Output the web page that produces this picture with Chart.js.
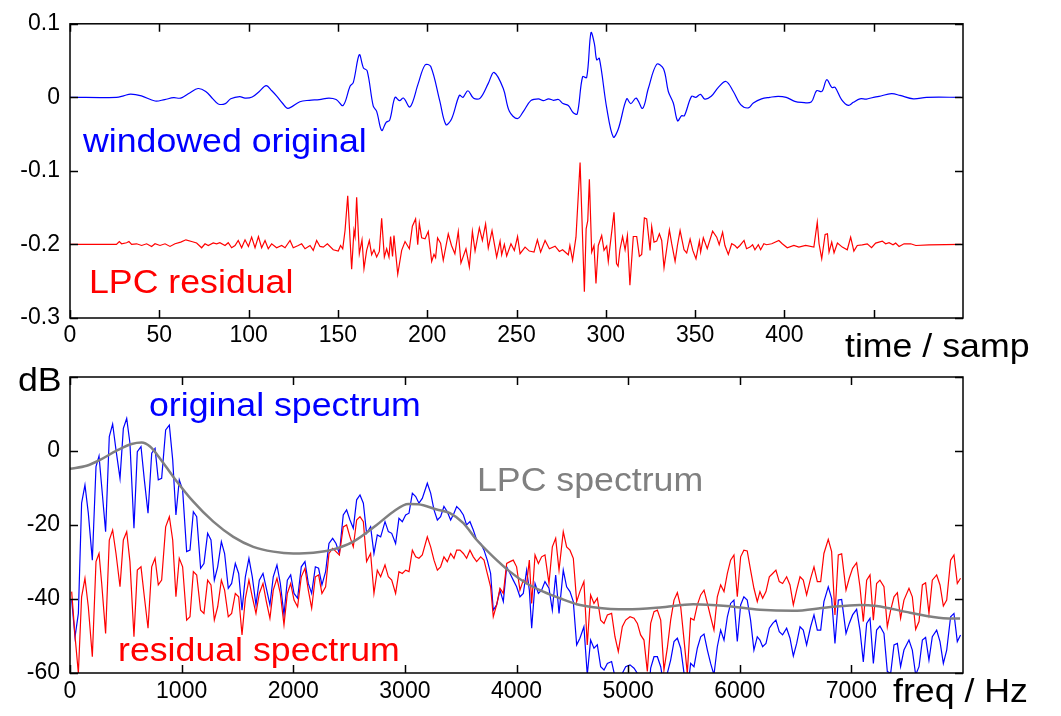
<!DOCTYPE html>
<html>
<head>
<meta charset="utf-8">
<script src="https://cdn.jsdelivr.net/npm/chart.js@4.4.0/dist/chart.umd.min.js"></script>
<style>
  body { margin: 0; background: #fff; }
  #wrap { position: relative; width: 1061px; height: 716px; overflow: hidden; font-family: "Liberation Sans", Arial, sans-serif; }
  canvas { position: absolute; left: 0; top: 0; }
  .lbl { position: absolute; font-size: 34px; line-height: 1; white-space: nowrap; transform-origin: 0 0; transform: scaleX(1.05); }
</style>
</head>
<body>
<div id="wrap">
  <canvas id="timeChart" width="1061" height="716"></canvas>
  <canvas id="specChart" width="1061" height="716"></canvas>
  <div class="lbl" style="left:83px;top:123px;color:#0000ff">windowed original</div>
  <div class="lbl" style="left:89px;top:264px;color:#ff0000">LPC residual</div>
  <div class="lbl" style="left:845px;top:328px;color:#000">time / samp</div>
  <div class="lbl" style="left:18px;top:362px;color:#000">dB</div>
  <div class="lbl" style="left:149px;top:387px;color:#0000ff">original spectrum</div>
  <div class="lbl" style="left:477px;top:462px;color:#808080">LPC spectrum</div>
  <div class="lbl" style="left:118px;top:632px;color:#ff0000">residual spectrum</div>
  <div class="lbl" style="left:893px;top:673px;color:#000">freq / Hz</div>
</div>
<script>
// ---- top panel: time waveform (sample index, amplitude) ----
const origT = [0,26,30,34,40,47.6,53,58,62,67,71.7,76,80,83,87,90,95,98,102,106,
  109.8,113,116,119,122,128.7,134,139.6,145,149,152.9,156.8,158.6,162,164.3,166.4,169.8,171.7,174.5,177,
  179,182,184.5,186.7,190.4,195,198.8,202,207,210.5,213.7,218,220,222.8,226,229.7,234.2,237.4,242.6,246,
  250.5,253.9,258,262.3,265,268,270.7,273.5,276,279,281.8,284,287,289.3,291.7,293.6,294.9,296.4,300.5,304.2,
  307,311.7,314,317,320.6,323.8,328.5,332.3,335,337.8,340.2,342.4,344,348,350.4,353,355.4,359,363,367.3,
  371.4,375.5,379.8,382.6,387.2,391.8,396.5,401,405.8,409.5,415,418,421,423.7,426.5,428.4,432,435.8,438.6,442.3,
  446,449,453,460,464.7,472.2,479.6,499];
const origV = [0,0,0.002,0.0045,0.002,-0.005,-0.003,-0.0005,-0.001,0.006,0.012,0.008,-0.002,-0.009,-0.0085,-0.002,0.001,-0.001,0.0005,0.008,
  0.016,0.009,0.001,-0.008,-0.015,-0.006,-0.004,-0.003,-0.001,-0.003,-0.011,0.015,0.02,0.058,0.04,0.036,-0.012,-0.019,-0.045,-0.034,
  -0.031,0,-0.0045,-0.001,-0.013,0.019,0.044,0.042,-0.0045,-0.037,-0.029,0.0027,0,0.009,-0.0013,-0.001,0.019,0.034,0.012,-0.019,
  -0.029,-0.019,-0.0045,-0.002,-0.0045,-0.002,-0.004,-0.003,-0.0085,-0.011,-0.021,-0.0225,0.028,0.027,0.088,0.073,0.051,0.053,-0.0144,-0.054,
  -0.043,-0.002,-0.0085,-0.001,-0.015,0.012,0.045,0.039,0.008,-0.0077,-0.032,-0.025,-0.025,0.0014,0,0.004,-0.0023,0.0014,0.0135,0.0216,
  0.008,-0.01,-0.0144,-0.0077,-0.002,0,0.0014,0,-0.0054,-0.0068,-0.0063,0.009,0.008,0.024,0.0135,0.0135,-0.003,-0.011,-0.0068,-0.002,
  -0.0023,-0.0005,0.0014,0.005,0.0027,-0.002,0,0];

const resT = [0,26,27.6,28.9,31.7,33,34.5,37.3,40.1,42.9,
  45.7,47.6,50.4,53.2,56,58.8,62,64.9,68.1,70.9,
  73.7,75.6,77.4,80.2,82.1,83.9,86.8,88.6,90.5,92.4,
  94.2,96.1,98,99.9,101.7,103.6,105.5,107.3,109.2,111,
  112.9,115.7,118.5,120.4,123.2,125,127.8,129.7,131.6,134.4,
  136.2,138.1,140,141.8,144.1,147.4,150.2,151.5,152.7,154,
  155.5,157.7,159,159.6,160.5,162,163.5,164.6,166.1,167.6,
  168.9,170.2,171.7,173.2,174.5,176,177.3,178.6,179.5,180.6,
  181.4,183.5,185.7,187.6,190,191.7,193.5,194.7,195.6,196.9,
  198.8,200.6,202.5,203.8,204.7,205.8,207.5,209,211.8,213.6,
  215.5,217.4,218.9,221.7,223.6,225.3,226.8,229.2,230.9,232.7,
  234.2,236.3,238.9,240.8,241.7,243.2,244.5,246.9,248.8,250.6,
  252,254.8,257.2,259.8,261.7,263.5,266,268.4,271.6,274,
  275.8,279,279.9,281.4,283.3,285.6,288,289,289.9,290.8,
  292.1,293.4,294.5,295.8,297.7,299,300.5,301.4,302.3,304.6,
  306,306.9,307.9,309.4,310.8,312.1,313.5,315.4,317.3,318.8,
  320.1,321.6,322.9,324.8,325.7,327,328.5,330,331.3,332.6,
  334.1,335.6,336.9,338.8,340.1,341.6,343.8,345.3,347.2,348.7,
  350.5,352.4,353.1,354.6,356.8,359.8,362.1,363.5,365.4,366.7,
  368.6,370.5,372.3,373.6,375.1,377.4,378.8,380.7,382.2,383.5,
  385.4,386.7,388.5,390,392.9,396.9,398.8,401.6,405.3,408.1,
  411.9,416.5,418.4,419.4,420.9,422.8,424.1,425,426.5,427.8,
  429.7,432.4,435.2,437.1,438.9,440.8,443.6,446.4,448.8,451.1,
  454.8,456.7,458.6,460.8,462.3,464.2,467,470.7,473.6,481,
  499];
const resV = [-0.2,-0.2,-0.196,-0.1991,-0.1977,-0.196,-0.2,-0.1991,-0.2014,-0.1991,
  -0.2027,-0.1991,-0.2014,-0.1991,-0.2027,-0.1991,-0.1968,-0.1937,-0.196,-0.198,
  -0.2045,-0.1991,-0.2014,-0.198,-0.1991,-0.1977,-0.2014,-0.1977,-0.2045,-0.2014,
  -0.1946,-0.2045,-0.1937,-0.2027,-0.19,-0.2045,-0.1892,-0.2045,-0.1946,-0.2058,
  -0.1991,-0.2045,-0.2014,-0.2045,-0.1946,-0.2045,-0.2014,-0.1991,-0.2058,-0.2014,
  -0.208,-0.1946,-0.2027,-0.2036,-0.199,-0.2072,-0.209,-0.2014,-0.2058,-0.1811,
  -0.1338,-0.2338,-0.1811,-0.1892,-0.136,-0.2126,-0.1937,-0.2329,-0.2081,-0.1946,
  -0.214,-0.2072,-0.2171,-0.2095,-0.1644,-0.2171,-0.2058,-0.2171,-0.1892,-0.2162,
  -0.1878,-0.2405,-0.2081,-0.196,-0.2058,-0.1752,-0.1653,-0.2004,-0.1712,-0.191,
  -0.1923,-0.1824,-0.223,-0.2135,-0.218,-0.191,-0.1982,-0.2216,-0.1856,-0.2014,
  -0.2126,-0.1824,-0.2252,-0.2058,-0.2306,-0.1824,-0.209,-0.1775,-0.1946,-0.1721,
  -0.2049,-0.1811,-0.2171,-0.1955,-0.214,-0.2,-0.2158,-0.199,-0.2081,-0.1892,
  -0.2126,-0.2036,-0.209,-0.2104,-0.1937,-0.2104,-0.1946,-0.2058,-0.2023,-0.2095,
  -0.2072,-0.214,-0.2014,-0.2216,-0.1901,-0.0887,-0.2644,-0.1788,-0.1676,-0.1113,
  -0.2104,-0.2014,-0.2532,-0.2014,-0.1878,-0.2081,-0.2023,-0.223,-0.2036,-0.1563,
  -0.2261,-0.2297,-0.2072,-0.1892,-0.2072,-0.1878,-0.2554,-0.1892,-0.1892,-0.2162,
  -0.2135,-0.164,-0.1653,-0.2081,-0.1757,-0.1969,-0.1955,-0.1856,-0.1946,-0.2315,
  -0.2058,-0.1802,-0.199,-0.223,-0.2014,-0.1811,-0.2072,-0.2117,-0.1928,-0.2081,
  -0.2194,-0.1955,-0.2104,-0.191,-0.2058,-0.182,-0.1901,-0.2004,-0.1833,-0.2014,
  -0.2135,-0.199,-0.2014,-0.2049,-0.2014,-0.1946,-0.2058,-0.2036,-0.2004,-0.2072,
  -0.2004,-0.2072,-0.199,-0.2004,-0.1991,-0.1946,-0.1991,-0.2045,-0.2014,-0.2036,
  -0.2014,-0.2036,-0.1698,-0.1991,-0.2194,-0.1865,-0.1856,-0.2104,-0.1968,-0.2113,
  -0.1982,-0.2036,-0.2072,-0.1901,-0.209,-0.2014,-0.2005,-0.1991,-0.2045,-0.1982,
  -0.1955,-0.1991,-0.1977,-0.2005,-0.1982,-0.2027,-0.1991,-0.1991,-0.2014,-0.2005,
  -0.2];

// ---- bottom panel: spectra (Hz, dB) ----
const specF = [15,45,75,104,134,164,200,233,260,284,
  319,352,382,412,448,478,508,537,573,603,
  636,666,699,732,762,791,821,857,890,920,
  949,979,1009,1045,1075,1105,1135,1170,1200,1233,
  1263,1293,1323,1356,1385,1418,1448,1481,1511,1541,
  1571,1603,1633,1666,1696,1729,1759,1791,1821,1854,
  1884,1917,1947,1977,2007,2039,2072,2105,2135,2165,
  2198,2227,2257,2290,2320,2353,2383,2413,2448,2478,
  2508,2538,2568,2598,
  2628,2657,2693,2723,2753,2783,2822,2852,2882,2917,
  2947,2977,3007,3037,3067,3097,3126,3156,3201,3231,
  3261,3291,3320,3350,3380,3410,3440,3464,3494,3524,
  3553,3583,3613,3643,3679,3709,3738,3768,3792,3822,
  3852,3882,3912,3942,3971,4001,4031,4061,4091,4115,
  4136,4166,4196,4225,4255,4291,4321,4351,4381,
  4419,4449,4479,4509,4539,4568,4604,4634,4664,4694,
  4724,4754,4784,4814,4852,4882,4912,4948,4978,5017,
  5053,5083,5112,5142,5172,5202,5232,5262,5292,5321,
  5351,5381,5411,5441,5471,5501,5530,5560,5590,5620,
  5650,5680,5710,5739,5769,5799,5829,5859,5889,5918,
  5948,5978,6008,6037,6067,6097,6127,6157,
  6181,6205,6235,6265,6295,6324,6354,6384,6420,6450,
  6480,6510,6540,6569,6599,6635,6665,6695,6725,6754,
  6793,6823,6853,6883,6913,6952,6981,7011,7047,7077,
  7107,7137,7167,7197,7226,7256,7292,7322,7352,7382,
  7412,7441,7471,7516,7546,7576,7606,7636,7665,7695,
  7725,7764,7794,7824,7854,7889,7919,7949,7978];
const origDb = [-40.3,-50.2,-43.9,-14.1,-9.2,-16.8,-29.5,-4.2,-1.35,-9.6,
  -21.8,3.9,7.3,0.3,-7.4,6.1,8.8,2.1,-20.9,-0.2,
  1.2,-7.8,-16.8,-0.6,0.7,-7.8,-7.4,5.7,7.0,-2.4,
  -17.3,-7.8,-10.5,-27.2,-26.8,-16.4,-17.75,-31.7,-30.4,-22.25,
  -24.05,-34.9,-31.3,-24.5,-27.7,-37.1,-35.8,-30.4,-33.1,-43,
  -34,-29,-34,-41.6,-34.9,-33.1,-37.1,-41.6,-34,-30.8,
  -35.8,-44.3,-34.9,-33.5,-38.5,-39.8,-31.3,-29.9,-35.8,-38.5,
  -31.3,-31.7,-36.2,-32.6,-25,-23.6,-25,-27.7,-17.3,-15.9,
  -18.65,-20.9,-13.2,-11.9,
  -14.1,-22.25,-20.5,-27.7,-22.7,-23.2,-19.1,-21.8,-22.25,-25,
  -18.2,-19.1,-17.3,-16.8,-11.4,-12.3,-14.1,-12.8,-8.7,-11.4,
  -15.9,-18.65,-17.75,-15,-16.4,-18.65,-16.8,-15,-15.9,-17.3,
  -20,-19.1,-21.35,-24.05,-25,-26.8,-29.5,-33.1,-43,-41.6,
  -37.6,-40.7,-31.3,-33.1,-34.9,-36.7,-39.4,-38.5,-32.2,-37.6,
  -47.9,-35.8,-38.5,-37.6,-35.3,-37.1,-43,-33.5,-43.9,
  -32.2,-36.7,-38,-40.7,-52.4,-50.6,-47.5,-60.5,-51.1,-53.3,
  -52.4,-58.3,-59.2,-57.4,-56.9,-61,-65.5,-60.1,-58.3,-57.8,
  -58.7,-60.1,-63.7,-65.5,-69,-58.7,-55.6,-55.6,-58.3,-63.7,
  -60.1,-56.5,-51.5,-50.6,-53.3,-60.1,-65.5,-57.4,-58.3,-53.3,
  -50.2,-49.5,-53.8,-57.4,-60.5,-52.9,-48.4,-51.1,-44.8,-41.2,
  -40.3,-51.5,-41.6,-39.4,-40.3,-45.7,-53.8,-50.2,
  -51.1,-52.9,-52,-47.9,-46.6,-45.7,-48.8,-49.7,-47.9,-50.6,
  -55.4,-52,-47.5,-48.4,-52.4,-47.5,-44.3,-48.4,-48.4,-40.7,
  -36.7,-39.8,-52,-40.3,-40.1,-49.3,-46.6,-44.3,-42.8,-48.4,
  -57,-46.6,-45.2,-57.4,-48.4,-47.3,-49.3,-59.6,-60.1,-52.4,
  -52,-58.3,-53.8,-51.1,-53.8,-60.5,-58.3,-51.1,-50.4,-56.5,
  -50.2,-48.4,-51.5,-57.4,-53.8,-44.8,-43.9,-51.5,-49.7];
const resDb = [-38,-50,-60.1,-39.4,-34.4,-42.1,-55.6,-29.9,-27.7,-35.8,
  -49.3,-24.05,-21.35,-27.7,-36.7,-24.05,-21.8,-29.9,-50.2,-32.2,
  -31.3,-39.4,-47.9,-31.3,-29,-36.2,-34.9,-20.5,-17.75,-24.05,
  -39.4,-29,-31.3,-45.7,-44.8,-32.6,-33.5,-43,-43.9,-34.9,
  -36.2,-45.7,-42.1,-34.9,-37.6,-44.8,-43.9,-38.5,-39.4,-49.7,
  -39.8,-34.9,-39.4,-43.9,-38.5,-35.8,-40.7,-45.2,-37.6,-34.4,
  -38.5,-47,-38.5,-35.8,-40.3,-42.1,-34,-31.7,-37.6,-42.5,
  -34,-33.5,-38.5,-36.7,-27.7,-26.3,-27.2,-28.1,-20.5,-20,
  -23.2,-25.9,-18.65,-17.75,
  -19.1,-29.9,-27.7,-38.5,-32.2,-34,-30.8,-34,-34.9,-38.5,
  -32.6,-33.1,-32.2,-32.6,-26.8,-28.6,-29,-28.1,-23.2,-25.9,
  -29.5,-32.2,-31.3,-28.6,-29.9,-27.7,-29,-26.8,-26.8,-27.7,
  -29,-26.8,-28.6,-29.9,-28.6,-29.5,-33.1,-36.7,-44.8,-41.6,
  -37.1,-38.5,-30.4,-29.9,-29.5,-31.3,-37.6,-34.9,-35.8,-29.5,
  -41.2,-28.1,-30.4,-28.6,-28.1,-35.8,-25.9,-23.6,-32.2,
  -21.8,-25.9,-26.8,-29,-40.7,-38,-35.3,-52.4,-38.9,-41.2,
  -39.8,-45.7,-46.6,-44.3,-43.9,-50.2,-54.2,-47.5,-45.7,-44.8,
  -45.2,-46.6,-49.7,-51.1,-59.6,-46.6,-43.4,-43,-45.7,-59.2,
  -53.3,-45.7,-40.3,-38.3,-42.1,-51.1,-60.1,-45.2,-45.7,-41.6,
  -38.9,-37.6,-41.2,-44.8,-48.4,-39.4,-36.2,-38,-33.1,-29.5,
  -28.1,-39.4,-28.6,-26.8,-27,-32.2,-37.1,-40.7,
  -38,-39.8,-38,-34,-33.1,-32.2,-35.3,-35.8,-34,-36.2,
  -41.6,-37.6,-34,-34.9,-38.9,-34.4,-31.3,-35.3,-35.3,-27.7,
  -23.9,-27.2,-44.3,-28.1,-27.8,-37.6,-34.4,-31.7,-30.2,-36.7,
  -46.1,-34.9,-33.5,-45.7,-35.8,-34.9,-36.7,-47.5,-43,-39.4,
  -38.3,-45.2,-40.3,-37.1,-39.4,-48.2,-46.1,-36.2,-35.6,-43.9,
  -34.9,-33.5,-36.2,-41.9,-40.3,-29.5,-28.1,-35.8,-34.4];
const lpcF = [0,149,269,418,552,642,717,806,926,1105,1284,1463,1642,1821,2000,2180,2359,2538,2747,2896,
  3031,3120,3285,3404,3524,3642,3792,3941,4091,4240,4389,4539,4688,4986,5285,5584,5883,6181,6480,6778,
  7077,7226,7526,7824,7974];
const lpcDb = [-4.8,-4.0,-2.4,0.1,1.9,2.3,1.2,-2.0,-7.0,-13.7,-19.1,-23.2,-25.9,-27.2,-27.7,-27.5,-26.6,-24.5,-20,-16.4,
  -14.3,-14.4,-15.8,-16.8,-19.5,-24.0,-28.6,-32.6,-35.8,-38,-39.8,-41.4,-42.2,-42.8,-42.3,-41.4,-41.9,-42.9,-43.2,-42.3,
  -41.6,-41.9,-43.7,-45.2,-45.3];

const timeTicks = [0, 50, 100, 150, 200, 250, 300, 350, 400, 450];
const freqTicks = [0, 1000, 2000, 3000, 4000, 5000, 6000, 7000];

function pairs(xs, ys) {
  return xs.map((x, i) => ({ x: x, y: ys[i] }));
}

// box round the plot area and matlab style ticks pointing inward
const frameBox = {
  id: 'frameBox',
  afterDraw(chart) {
    const { ctx, chartArea: a, scales } = chart;
    const len = 8;
    ctx.save();
    ctx.strokeStyle = '#000';
    ctx.lineWidth = 1.5;
    ctx.beginPath();
    scales.x.ticks.forEach((t) => {
      const px = Math.round(scales.x.getPixelForValue(t.value)) + 0.5;
      ctx.moveTo(px, a.bottom); ctx.lineTo(px, a.bottom - len);
      ctx.moveTo(px, a.top); ctx.lineTo(px, a.top + len);
    });
    scales.y.ticks.forEach((t) => {
      const py = Math.round(scales.y.getPixelForValue(t.value)) + 0.5;
      ctx.moveTo(a.left, py); ctx.lineTo(a.left + len, py);
      ctx.moveTo(a.right, py); ctx.lineTo(a.right - len, py);
    });
    ctx.stroke();
    ctx.strokeRect(a.left, a.top, a.right - a.left, a.bottom - a.top);
    ctx.restore();
  }
};

const tickFont = { family: 'Liberation Sans, Arial, sans-serif', size: 23 };

function baseOptions(pad) {
  return {
    responsive: false,
    animation: false,
    devicePixelRatio: 1,
    layout: { padding: pad },
    plugins: { legend: { display: false }, tooltip: { enabled: false } },
    elements: { point: { radius: 0 }, line: { tension: 0 } }
  };
}

const timeOpts = baseOptions({ left: 0, top: 22, right: 98, bottom: 368 });
timeOpts.scales = {
  x: {
    type: 'linear', min: 0, max: 500,
    grid: { display: false, drawTicks: false }, border: { display: false },
    afterBuildTicks: (s) => { s.ticks = timeTicks.map((v) => ({ value: v })); },
    afterFit: (s) => { s.height = 30; },
    ticks: { font: tickFont, color: '#000', padding: 4, maxRotation: 0,
      callback: (v) => (v <= 400 ? String(v) : '') }
  },
  y: {
    min: -0.3, max: 0.1,
    grid: { display: false, drawTicks: false }, border: { display: false },
    afterFit: (s) => { s.width = 70; },
    ticks: { font: tickFont, color: '#000', padding: 10, stepSize: 0.1 }
  }
};

new Chart(document.getElementById('timeChart'), {
  type: 'line',
  data: {
    datasets: [
      { data: pairs(origT, origV), borderColor: '#0000ff', borderWidth: 1.2, tension: 0.35 },
      { data: pairs(resT, resV), borderColor: '#ff0000', borderWidth: 1.2 }
    ]
  },
  options: timeOpts,
  plugins: [frameBox]
});

const specOpts = baseOptions({ left: 0, top: 377, right: 98, bottom: 13 });
specOpts.scales = {
  x: {
    type: 'linear', min: 0, max: 8000,
    grid: { display: false, drawTicks: false }, border: { display: false },
    afterBuildTicks: (s) => { s.ticks = freqTicks.map((v) => ({ value: v })); },
    afterFit: (s) => { s.height = 30; },
    ticks: { font: tickFont, color: '#000', padding: 5, maxRotation: 0,
      callback: (v) => String(v) }
  },
  y: {
    min: -60, max: 20,
    grid: { display: false, drawTicks: false }, border: { display: false },
    afterFit: (s) => { s.width = 70; },
    ticks: { font: tickFont, color: '#000', padding: 10, stepSize: 20,
      callback: (v) => (v < 20 ? String(v) : '') }
  }
};

new Chart(document.getElementById('specChart'), {
  type: 'line',
  data: {
    datasets: [
      { data: pairs(lpcF, lpcDb), borderColor: '#808080', borderWidth: 2.5, cubicInterpolationMode: 'monotone', order: 0 },
      { data: pairs(specF, resDb), borderColor: '#ff0000', borderWidth: 1.2, order: 1 },
      { data: pairs(specF, origDb), borderColor: '#0000ff', borderWidth: 1.2, order: 2 }
    ]
  },
  options: specOpts,
  plugins: [frameBox]
});
</script>
</body>
</html>
